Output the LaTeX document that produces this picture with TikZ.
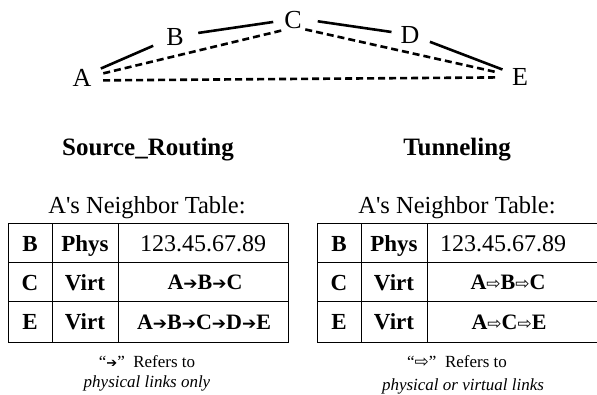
\documentclass[tikz,border=0pt]{standalone}
\usepackage{fontspec}
\setmainfont{Liberation Serif}
\newfontfamily\freccia{DejaVu Sans}
\newcommand{\apice}{\XeTeXglyph\XeTeXglyphindex "quotesingle"\relax}
\newcommand{\fpie}{{\freccia\mdseries\fontsize{17}{17}\selectfont ➔}}
\newcommand{\fvuo}{{\freccia\mdseries\fontsize{17}{17}\selectfont ⇨}}
\begin{document}
\begin{tikzpicture}[x=1pt,y=-1pt,
    lett/.style={font=\fontsize{26}{26}\selectfont, inner sep=1pt},
    fis/.style={line width=2.6pt},
    virt/.style={line width=2.6pt, dash pattern=on 7pt off 4pt},
    titolo/.style={font=\fontsize{25}{25}\selectfont\bfseries},
    tabtit/.style={font=\fontsize{24.5}{24.5}\selectfont},
    griglia/.style={line width=1pt},
    cella/.style={font=\fontsize{23}{23}\selectfont\bfseries, text height=15.5pt, text depth=0pt},
    via/.style={font=\fontsize{22}{22}\selectfont\bfseries, text height=14.5pt, text depth=0pt},
    nota/.style={font=\fontsize{17}{17}\selectfont}]
    \useasboundingbox (0,0) rectangle (597,395);

    % Definizione dei nodi A ... E
    \node[lett] (A) at (82,78) {A};
    \node[lett] (B) at (175,37) {B};
    \node[lett] (C) at (293,20) {C};
    \node[lett] (D) at (410,35) {D};
    \node[lett] (E) at (520,77) {E};

    % Collegamenti fisici
    \draw[fis, shorten <=9pt, shorten >=13pt] (A.29) -- (B.200);
    \draw[fis, shorten <=13.5pt, shorten >=10pt] (B.12) -- (C.183);
    \draw[fis, shorten <=15pt, shorten >=8pt] (C.5) -- (D.170);
    \draw[fis, shorten <=10pt, shorten >=9pt] (D.-17) -- (E.155);

    % Collegamenti virtuali
    \draw[virt, shorten <=11pt, shorten >=1.5pt] (A.11) -- (C.228);
    \draw[virt, shorten <=2.5pt, shorten >=14pt] (C.-42) -- (E.170);
    \draw[virt, shorten <=10.5pt, shorten >=14pt] (A.-13) -- (E.182);

    % Titoli
    \node[titolo] (srtit) at (148,150) {Source\_Routing};
    \node[titolo] (tuntit) at (457,150) {Tunneling};
    \node[tabtit] (srtab) at (147,208) {A\apice s Neighbor Table:};
    \node[tabtit] (tuntab) at (457,208) {A\apice s Neighbor Table:};

    % Tabella di sinistra
    \draw[griglia] (8,224) rectangle (288,342);
    \draw[griglia] (8,263) -- (288,263) (8,302) -- (288,302)
        (52,224) -- (52,342) (118,224) -- (118,342);
    \node[cella] (sb) at (30,243.5) {B};
    \node[cella] (sc) at (30,282.5) {C};
    \node[cella] (se) at (30,322) {E};
    \node[cella] (sbt) at (85,243.5) {Phys};
    \node[cella] (sct) at (85,282.5) {Virt};
    \node[cella] (set) at (85,322) {Virt};
    \node[cella, font=\fontsize{24}{24}\selectfont] (sbp) at (203,243.5) {123.45.67.89};
    \node[via] (scp) at (205,282.5) {A\fpie B\fpie C};
    \node[via] (sep) at (204,322) {A\fpie B\fpie C\fpie D\fpie E};

    % Tabella di destra
    \draw[griglia] (597,224) -- (317,224) -- (317,342) -- (597,342);
    \draw[griglia] (317,263) -- (597,263) (317,302) -- (597,302)
        (361,224) -- (361,342) (427,224) -- (427,342);
    \node[cella] (tb) at (339,243.5) {B};
    \node[cella] (tc) at (339,282.5) {C};
    \node[cella] (te) at (339,322) {E};
    \node[cella] (tbt) at (394,243.5) {Phys};
    \node[cella] (tct) at (394,282.5) {Virt};
    \node[cella] (tet) at (394,322) {Virt};
    \node[cella, font=\fontsize{24}{24}\selectfont] (tbp) at (503,243.5) {123.45.67.89};
    \node[via] (tcp) at (508,282.5) {A\fvuo B\fvuo C};
    \node[via] (tep) at (509,322) {A\fvuo C\fvuo E};

    % Note
    \node[nota] (snota) at (147,362) {“{\freccia\fontsize{13}{13}\selectfont ➔}”\ \ Refers to};
    \node[nota] (sspieg) at (147,383) {\itshape physical links only};
    \node[nota] (tnota) at (457,362) {“{\freccia\fontsize{17}{17}\selectfont ⇨}”\ \ Refers to};
    \node[nota] (tspieg) at (463,386) {\itshape physical or virtual links};
\end{tikzpicture}
\end{document}
